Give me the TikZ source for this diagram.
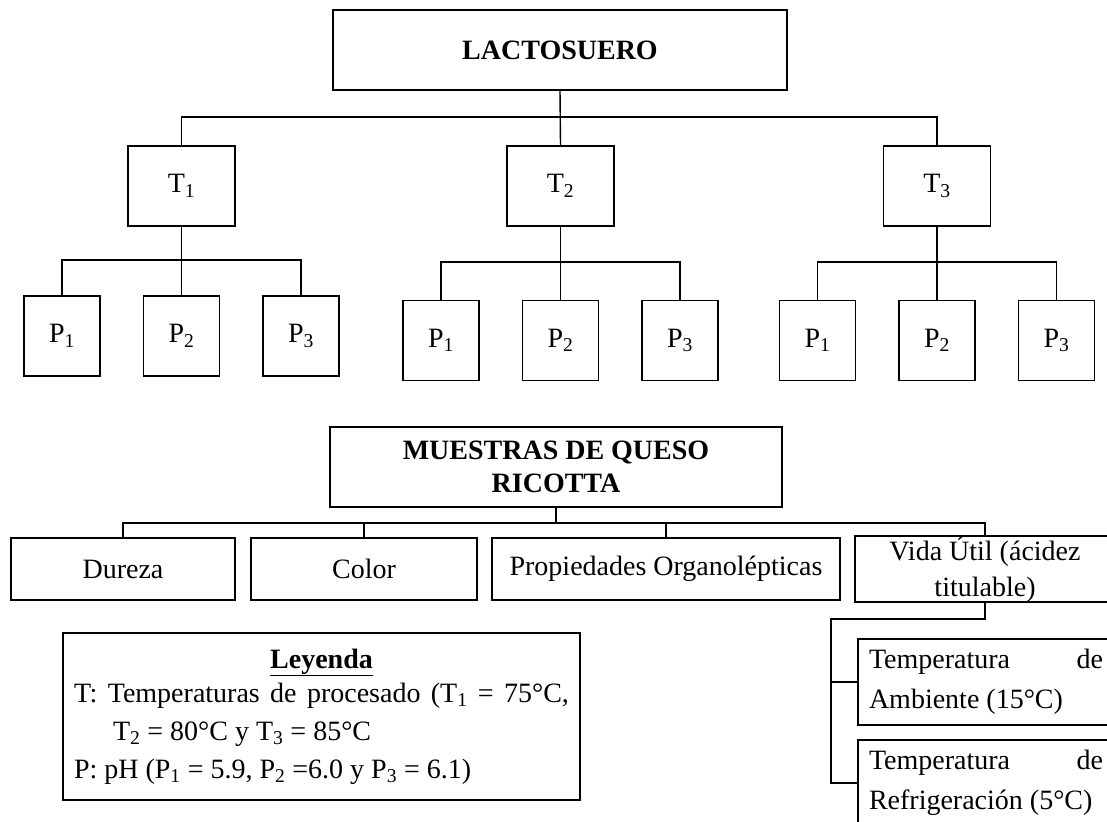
\documentclass[tikz,border=0pt]{standalone}
\usepackage{fontspec}
\setmainfont{Liberation Serif}
\newcommand{\diagfont}{\fontsize{28}{33}\selectfont}

\begin{document}
\diagfont
\begin{tikzpicture}[x=1pt, y=-1pt, line width=1.4pt, font=\diagfont,
  box/.style={draw, inner sep=0pt, align=center},
  head/.style={font=\diagfont\bfseries},
  tbox/.style={box, minimum width=107pt, minimum height=80pt},
  pbox/.style={box, minimum width=76pt, minimum height=80pt},
  catbox/.style={box, minimum height=62pt},
  condbox/.style={draw, inner sep=10pt, minimum width=256pt, minimum height=86pt, align=left}]
  \useasboundingbox (0,0) rectangle (1107,821);
  \clip (0,0) rectangle (1107,821);
  % upper tree
  \node[box, head, minimum width=454pt, minimum height=80pt] (lacto) at (560,50) {LACTOSUERO};
  \foreach \t/\x/\y/\b in {1/181.5/336/260, 2/560.5/340.5/262, 3/937/340.5/262} {
    \node[tbox] (t\t) at (\x,186) {T\textsubscript{\t}};
    \node[pbox] (p\t1) at ({\x-119.5},\y) {P\textsubscript{1}};
    \node[pbox] (p\t2) at (\x,\y) {P\textsubscript{2}};
    \node[pbox] (p\t3) at ({\x+119.5},\y) {P\textsubscript{3}};
    \coordinate (pbus\t) at (\x,\b);
    \draw (t\t.south) -- (p\t2.north);
    \draw (p\t1.north) |- (pbus\t) -| (p\t3.north);
  }
  \coordinate (tbus) at (560,117);
  \draw (lacto.south) -- (t2.north);
  \draw (t1.north) |- (tbus) -| (t3.north);

  % lower tree
  \node[box, head, minimum width=452pt, minimum height=80pt] (muestras) at (556,467) {MUESTRAS DE QUESO\\RICOTTA};
  \node[catbox, minimum width=224pt] (dureza) at (123,569) {Dureza};
  \node[catbox, minimum width=226pt] (color) at (364,569) {Color};
  \node[catbox, minimum width=348pt] (organo) at (666,569) {Propiedades Organolépticas};
  \node[catbox, minimum width=260pt] (vida) at (985,569) {Vida Útil (ácidez\\[3pt]titulable)};
  \coordinate (mbus) at (556,523);
  \draw (muestras.south) -- (mbus);
  \draw (dureza.north) |- (mbus) -| (vida.north);
  \draw (color.north) -- (color.north |- mbus);
  \draw (organo.north) -- (organo.north |- mbus);

  \node[condbox] (ambiente) at (986,682) {\makebox[234pt][s]{Temperatura de}\\[7pt]Ambiente (15°C)};
  \node[condbox] (refrig) at (986,783) {\makebox[234pt][s]{Temperatura de}\\[7pt]Refrigeración (5°C)};
  \coordinate (vbend) at (831,619);
  \draw (vida.south) |- (vbend) |- (ambiente.west);
  \draw (vbend) |- (refrig.west);

  % legend
  \node[draw, align=left, inner sep=11pt, minimum width=517pt, minimum height=167pt] (leyenda) at (321.5,716.5)
    {\makebox[495pt][c]{\underline{\textbf{Leyenda}}}\\[1pt]
     \makebox[495pt][s]{T: Temperaturas de procesado (T\textsubscript{1} = 75°C,}\\[5pt]
     \hspace*{39pt}T\textsubscript{2} = 80°C y T\textsubscript{3} = 85°C\\[5pt]
     P: pH (P\textsubscript{1} = 5.9, P\textsubscript{2} =6.0 y P\textsubscript{3} = 6.1)};
\end{tikzpicture}
\end{document}
